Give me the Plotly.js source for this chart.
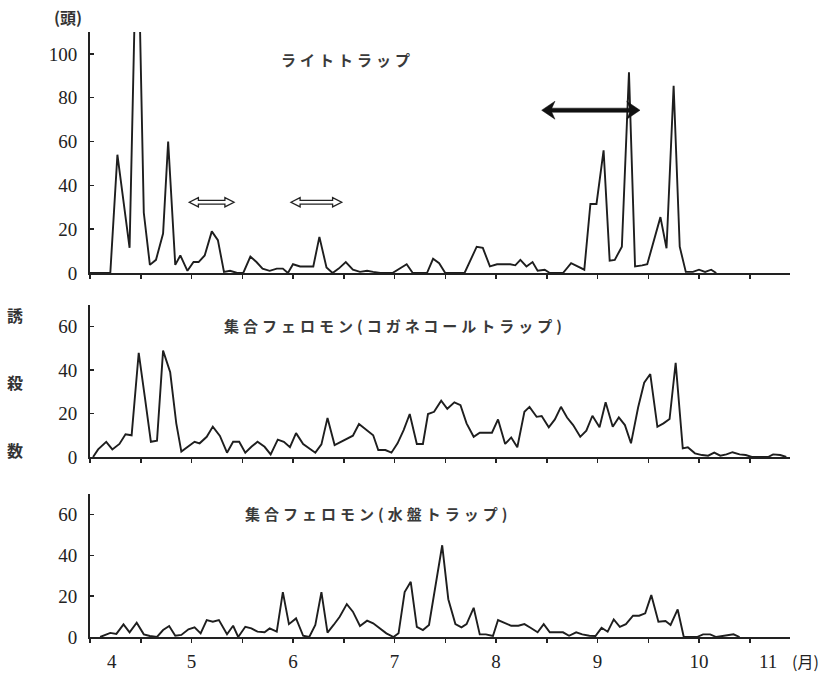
<!DOCTYPE html>
<html>
<head>
<meta charset="utf-8">
<script src="https://cdn.plot.ly/plotly-3.0.1.min.js"></script>
<style>html,body{margin:0;padding:0;background:#fff;}</style>
</head>
<body>
<div id="chart" style="width:827px;height:674px;"></div>
<script>
// ---- Data (x = month, e.g. 4.5 = mid-April) ----
const lightX = [4.00,4.13,4.20,4.27,4.39,4.44,4.49,4.53,4.59,4.65,4.72,4.77,4.84,4.89,4.96,5.02,5.07,5.13,5.20,5.26,5.32,5.38,5.45,5.51,5.58,5.64,5.70,5.77,5.84,5.90,5.95,6.00,6.07,6.13,6.20,6.26,6.33,6.39,6.45,6.52,6.59,6.66,6.73,6.79,6.86,6.98,7.03,7.12,7.18,7.32,7.38,7.44,7.50,7.69,7.81,7.87,7.94,8.01,8.07,8.14,8.19,8.24,8.30,8.36,8.41,8.48,8.53,8.66,8.74,8.80,8.87,8.93,8.99,9.06,9.12,9.17,9.24,9.31,9.37,9.44,9.49,9.62,9.68,9.75,9.81,9.87,9.94,10.00,10.06,10.12,10.17];
const lightY = [0,0,0,54,11.5,118,118,27.5,3.7,6,18,60,3.7,8,1,5,5,8,19,15,0.5,1,0,0,7.5,5,2,1,2,2,0,4,3,3,3,16.5,2.5,0,2,5,1.5,0.5,1,0.5,0,0,1.5,4,0,0,6.5,4.5,0,0,12,11.5,3,4,4,4,3.5,6,3,5,1,1.5,0,0,4.5,3,1.5,31.5,31.5,56,5.6,6,12,91.6,3,3.5,4,25.5,11.3,85.5,12,0.5,0.5,1.5,0.5,1.5,0];

const koganeX = [4.03,4.08,4.16,4.22,4.29,4.35,4.41,4.48,4.54,4.60,4.66,4.72,4.79,4.85,4.90,4.97,5.03,5.08,5.15,5.21,5.28,5.35,5.41,5.47,5.53,5.59,5.65,5.72,5.78,5.85,5.91,5.97,6.03,6.10,6.16,6.22,6.28,6.34,6.41,6.47,6.53,6.59,6.65,6.72,6.79,6.84,6.91,6.97,7.03,7.09,7.15,7.22,7.28,7.33,7.39,7.46,7.52,7.59,7.65,7.71,7.78,7.84,7.96,8.02,8.09,8.15,8.21,8.28,8.33,8.40,8.45,8.52,8.58,8.64,8.70,8.76,8.83,8.89,8.95,9.02,9.08,9.15,9.21,9.27,9.33,9.40,9.46,9.52,9.59,9.65,9.71,9.77,9.84,9.89,9.96,10.03,10.09,10.15,10.21,10.27,10.33,10.40,10.46,10.52,10.68,10.73,10.80,10.86];
const koganeY = [0,3.5,7,3.5,6,10.5,10,48,27.7,7,7.5,49,39,15.5,2.5,4.7,7,6.3,9.3,14,9.7,2,7,7,2,4.7,7,4.7,1.2,8,7,4.5,11,6,4,2,5.8,18,5.5,7,8.3,9.8,15.2,12.7,10,3.2,3.2,2,6.3,12.4,19.8,6,6,19.8,20.8,25.9,22.2,25.2,23.9,15.5,9.3,11.2,11.2,17.3,6,9,4.5,20.8,23.1,18.5,18.9,13.7,17.3,23.1,18.2,14.7,9.3,12.1,19,13.7,25.2,13.9,18.2,14.7,6.3,22.8,34.2,38.2,13.9,15.5,17.5,43.4,4,4.5,1.7,0.9,0.6,2,0.6,1.2,2.2,1.2,0.9,0,0,1.2,0.9,0];

const waterX = [4.10,4.20,4.26,4.33,4.39,4.46,4.53,4.59,4.66,4.72,4.78,4.84,4.90,4.97,5.03,5.09,5.15,5.21,5.27,5.35,5.41,5.46,5.53,5.59,5.65,5.72,5.77,5.84,5.90,5.96,6.03,6.10,6.16,6.22,6.28,6.34,6.40,6.46,6.53,6.59,6.66,6.73,6.79,6.86,6.92,6.99,7.04,7.10,7.16,7.22,7.28,7.34,7.47,7.53,7.60,7.66,7.71,7.78,7.84,7.90,7.97,8.02,8.09,8.15,8.22,8.28,8.34,8.41,8.47,8.53,8.60,8.66,8.72,8.79,8.85,8.92,8.98,9.04,9.10,9.16,9.22,9.28,9.35,9.41,9.47,9.53,9.60,9.67,9.72,9.79,9.85,9.91,9.98,10.04,10.11,10.17,10.27,10.34,10.40];
const waterY = [0,2,1.5,6.2,2.3,7,1.3,0.5,0,3.4,5.4,0.6,1,3.8,4.7,1.8,8.3,7.5,8.3,1.3,5.5,0,5,4.2,2.6,2.3,4.2,2.6,22,6.3,9.1,0.6,0,5.9,22,2.1,5.9,9.9,16.1,12.4,5.4,8,6.7,3.9,1.8,0,1.8,22,27,5,3.4,5.9,44.9,18.5,6.3,4.7,6.3,14.3,1.3,1.3,0.5,8.3,6.7,5.5,5.5,6.3,4.5,2.3,6.3,2.3,2.3,2.3,0.6,2.3,1.3,0.6,0.5,4.5,2.6,8.6,5,6.3,10.4,10.4,11.6,20.5,7.5,7.8,5.9,13.5,0,0,0,1.3,1.3,0,0.8,1.3,0];

const panelTitles = ['ライトトラップ', '集合フェロモン(コガネコールトラップ)', '集合フェロモン(水盤トラップ)'];
const monthTickVals = [4,4.5,5,5.5,6,6.5,7,7.5,8,8.5,9,9.5,10,10.5];
const monthTickText = ['','','5','','6','','7','','8','','9','','10',''];
const yTicksTop = [0,20,40,60,80,100];
const yTicksLow = [0,20,40,60];

// ---- Layout helpers ----
const W = 827, H = 674, L = 90, R = 37;
const PW = W - L - R;
const XR = [4, 4 + PW / 101.5];
const px2paperY = p => 1 - p / H;
const px2paperX = p => (p - L) / PW;

const lineStyle = {color: '#1e1e1e', width: 1.9};
const tickFont = {family: 'Liberation Serif, Times New Roman, serif', size: 19, color: '#222'};
const jpFont = {family: 'Noto Sans CJK JP, sans-serif', size: 15, color: '#3a3a3a', weight: 'bold'};

function xaxisDef(anchor, showLabels) {
  return {
    range: XR, domain: [0, 1], anchor: anchor,
    showline: true, linecolor: '#222', linewidth: 2,
    showgrid: false, zeroline: false,
    ticks: 'outside', ticklen: 4, tickwidth: 1.5, tickcolor: '#222',
    tickmode: 'array', tickvals: monthTickVals, ticktext: monthTickText,
    showticklabels: showLabels, tickfont: tickFont, ticklabelstandoff: 2,
    fixedrange: true
  };
}
function yaxisDef(anchor, range, dom, tv) {
  return {
    range: range, domain: dom, anchor: anchor,
    showline: true, linecolor: '#222', linewidth: 2,
    showgrid: false, zeroline: false,
    ticks: 'inside', ticklen: 4, tickwidth: 1.5, tickcolor: '#222',
    tickmode: 'array', tickvals: tv,
    tickfont: tickFont, ticklabelstandoff: 7,
    fixedrange: true
  };
}

const traces = [
  {x: lightX, y: lightY, xaxis: 'x', yaxis: 'y', type: 'scatter', mode: 'lines', line: lineStyle, hoverinfo: 'skip'},
  {x: koganeX, y: koganeY, xaxis: 'x2', yaxis: 'y2', type: 'scatter', mode: 'lines', line: lineStyle, hoverinfo: 'skip'},
  {x: waterX, y: waterY, xaxis: 'x3', yaxis: 'y3', type: 'scatter', mode: 'lines', line: lineStyle, hoverinfo: 'skip'}
];

// arrows (top panel, data units)
function hollowArrow(x0, x1, c) {
  const hl = 0.09, hh = 2.1, sh = 0.85;
  return `M${x0},${c} L${x0+hl},${c+hh} L${x0+hl},${c+sh} L${x1-hl},${c+sh} L${x1-hl},${c+hh} L${x1},${c} L${x1-hl},${c-hh} L${x1-hl},${c-sh} L${x0+hl},${c-sh} L${x0+hl},${c-hh} Z`;
}
function solidArrow(x0, x1, c) {
  const hl = 0.131, nl = 0.10, hh = 4.1, sh = 0.95;
  return `M${x0},${c} L${x0+hl},${c+hh} L${x0+nl},${c+sh} L${x1-nl},${c+sh} L${x1-hl},${c+hh} L${x1},${c} L${x1-hl},${c-hh} L${x1-nl},${c-sh} L${x0+nl},${c-sh} L${x0+hl},${c-hh} Z`;
}

const shapes = [
  {type: 'path', xref: 'x', yref: 'y', path: hollowArrow(4.978, 5.419, 32.3), fillcolor: '#fff', line: {color: '#222', width: 1.3}},
  {type: 'path', xref: 'x', yref: 'y', path: hollowArrow(5.980, 6.480, 32.3), fillcolor: '#fff', line: {color: '#222', width: 1.3}},
  {type: 'path', xref: 'x', yref: 'y', path: solidArrow(8.450, 9.419, 74.3), fillcolor: '#111', line: {color: '#111', width: 0.5}}
];

const sp = t => `<span style="letter-spacing:4px">${t}</span>`;
const annotations = [
  {text: sp(panelTitles[0]), xref: 'paper', yref: 'paper', x: px2paperX(347), y: px2paperY(60), showarrow: false, font: jpFont, xanchor: 'center', yanchor: 'middle'},
  {text: sp(panelTitles[1]), xref: 'paper', yref: 'paper', x: px2paperX(395), y: px2paperY(325), showarrow: false, font: jpFont, xanchor: 'center', yanchor: 'middle'},
  {text: sp(panelTitles[2]), xref: 'paper', yref: 'paper', x: px2paperX(378), y: px2paperY(513), showarrow: false, font: jpFont, xanchor: 'center', yanchor: 'middle'},
  {text: '(頭)', xref: 'paper', yref: 'paper', x: px2paperX(68), y: px2paperY(17), showarrow: false, font: {family: 'Noto Sans CJK JP', size: 16, color: '#333', weight: 'bold'}, xanchor: 'center', yanchor: 'middle'},
  {text: '誘', xref: 'paper', yref: 'paper', x: px2paperX(15), y: px2paperY(315), showarrow: false, font: {family: 'Noto Sans CJK JP', size: 16, color: '#333', weight: 'bold'}, xanchor: 'center', yanchor: 'middle'},
  {text: '殺', xref: 'paper', yref: 'paper', x: px2paperX(15), y: px2paperY(382), showarrow: false, font: {family: 'Noto Sans CJK JP', size: 16, color: '#333', weight: 'bold'}, xanchor: 'center', yanchor: 'middle'},
  {text: '数', xref: 'paper', yref: 'paper', x: px2paperX(15), y: px2paperY(450), showarrow: false, font: {family: 'Noto Sans CJK JP', size: 16, color: '#333', weight: 'bold'}, xanchor: 'center', yanchor: 'middle'},
  {text: '4', xref: 'paper', yref: 'paper', x: px2paperX(112), y: px2paperY(661), showarrow: false, font: tickFont, xanchor: 'center', yanchor: 'middle'},
  {text: '11', xref: 'paper', yref: 'paper', x: px2paperX(768), y: px2paperY(661), showarrow: false, font: tickFont, xanchor: 'center', yanchor: 'middle'},
  {text: '(月)', xref: 'paper', yref: 'paper', x: px2paperX(805), y: px2paperY(661), showarrow: false, font: {family: 'Noto Sans CJK JP', size: 16, color: '#222'}, xanchor: 'center', yanchor: 'middle'}
];

const layout = {
  width: W, height: H,
  margin: {l: L, r: R, t: 0, b: 0},
  paper_bgcolor: '#fff', plot_bgcolor: '#fff',
  showlegend: false,
  xaxis: xaxisDef('y', false),
  xaxis2: xaxisDef('y2', false),
  xaxis3: xaxisDef('y3', true),
  yaxis: yaxisDef('x', [0, 110], [px2paperY(273), px2paperY(32)], yTicksTop),
  yaxis2: yaxisDef('x2', [0, 70], [px2paperY(457), px2paperY(305)], yTicksLow),
  yaxis3: yaxisDef('x3', [0, 70], [px2paperY(637), px2paperY(494)], yTicksLow),
  shapes: shapes,
  annotations: annotations
};

Plotly.newPlot('chart', traces, layout, {displayModeBar: false, staticPlot: true});
</script>
</body>
</html>
